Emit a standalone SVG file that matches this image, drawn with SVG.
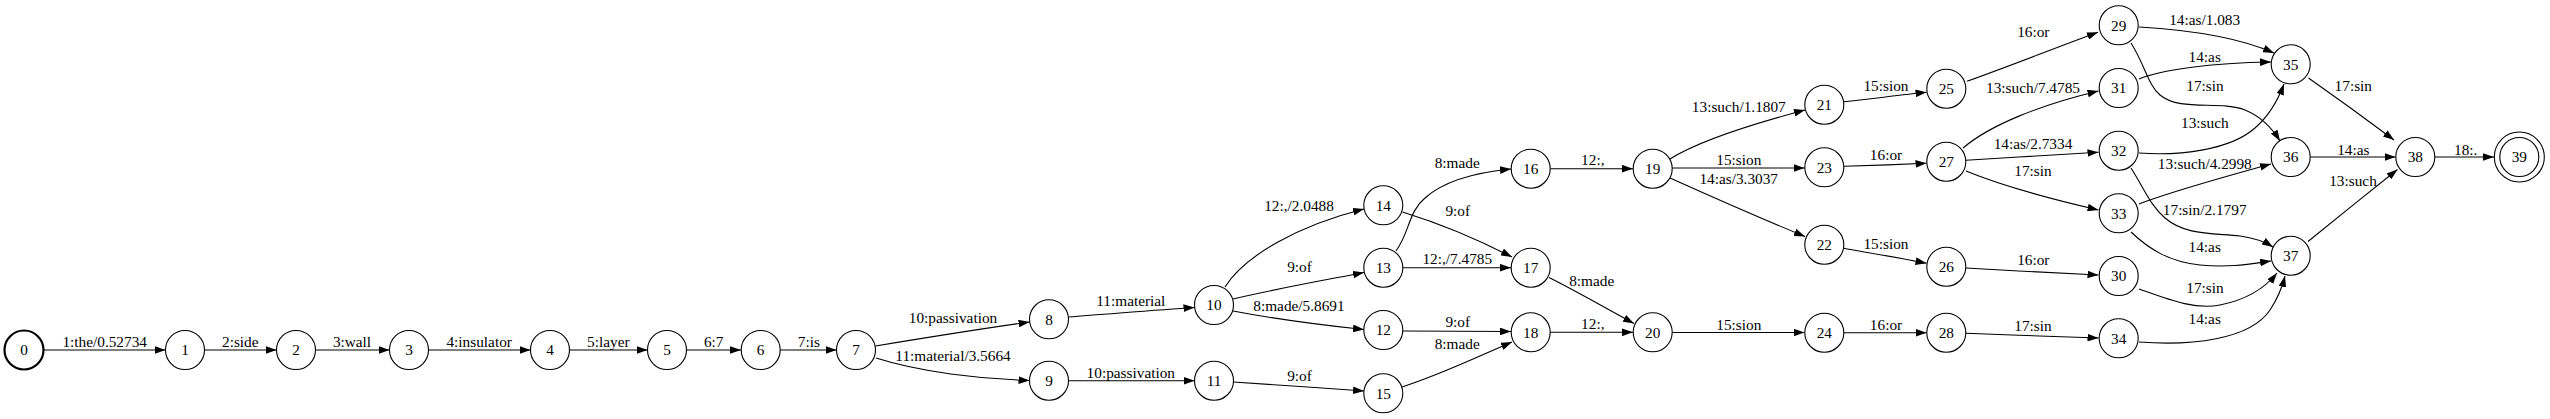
<svg xmlns="http://www.w3.org/2000/svg" width="2550" height="419" viewBox="0 0 2550 419">
<style>
.n{fill:none;stroke:#000;stroke-width:1.1}
.b{fill:none;stroke:#000;stroke-width:2.2}
.e{fill:none;stroke:#000;stroke-width:1.1;marker-end:url(#ah)}
text{font-family:"Liberation Serif","Times New Roman",serif;font-size:15.3px;fill:#000;text-anchor:middle}
</style>
<defs>
<marker id="ah" viewBox="0 0 10 7" refX="10" refY="3.5" markerWidth="11" markerHeight="7.7" markerUnits="userSpaceOnUse" orient="auto">
<path d="M0,0 L10,3.5 L0,7 Z" fill="#000"/>
</marker>
</defs>
<rect width="2550" height="419" fill="#fff"/>
<g id="connectors">
<path class="e" d="M44,350 L165.5,350"/><text x="104.7" y="346.5">1:the/0.52734</text>
<path class="e" d="M205,350 L276.5,350"/><text x="240.3" y="346.5">2:side</text>
<path class="e" d="M316,350 L389.5,350"/><text x="352" y="346.5">3:wall</text>
<path class="e" d="M429,350 L530.5,350"/><text x="479.2" y="346.5">4:insulator</text>
<path class="e" d="M570,350 L647.5,350"/><text x="608.3" y="346.5">5:layer</text>
<path class="e" d="M687,350 L741,350"/><text x="713.7" y="346.5">6:7</text>
<path class="e" d="M780.5,350 L836.5,350"/><text x="808.8" y="346.5">7:is</text>
<path class="e" d="M875.5,346 C930,337 980,329 1029.6,322"/><text x="953" y="323.3">10:passivation</text>
<path class="e" d="M876,358 C920,372 980,379 1029.5,380.5"/><text x="953" y="361">11:material/3.5664</text>
<path class="e" d="M1068.5,317 C1110,314 1155,310 1194.5,307.5"/><text x="1130.8" y="306">11:material</text>
<path class="e" d="M1068.5,380.7 L1194.5,380.7"/><text x="1130.8" y="377.7">10:passivation</text>
<path class="e" d="M1225,287 C1245,255 1300,225 1364,209"/><text x="1299" y="210.7">12:,/2.0488</text>
<path class="e" d="M1233,299 C1270,290 1320,281 1364,272.5"/><text x="1299.5" y="272.3">9:of</text>
<path class="e" d="M1233,311 C1270,318 1320,325 1364,329.5"/><text x="1299" y="310.7">8:made/5.8691</text>
<path class="e" d="M1233.5,382 C1280,385 1320,388 1364,391"/><text x="1299.5" y="380.7">9:of</text>
<path class="e" d="M1402.5,212 C1435,222 1475,238 1512,257"/><text x="1457.8" y="215.7">9:of</text>
<path class="e" d="M1396,251 C1410,232 1408,212 1425,198 C1445,180 1480,172 1511,169"/><text x="1457.2" y="167.7">8:made</text>
<path class="e" d="M1403,267.7 L1511,267.7"/><text x="1457.3" y="264.3">12:,/7.4785</text>
<path class="e" d="M1403,331 L1511,331.5"/><text x="1457.8" y="327.3">9:of</text>
<path class="e" d="M1402,387 C1440,375 1475,358 1512,342"/><text x="1457.2" y="348.7">8:made</text>
<path class="e" d="M1550.5,168.7 L1633,168.7"/><text x="1592.8" y="165">12:,</text>
<path class="e" d="M1549,277.5 C1580,293 1605,308 1634,323.5"/><text x="1591.7" y="285.7">8:made</text>
<path class="e" d="M1550.5,332.3 L1633,332.3"/><text x="1592.8" y="329">12:,</text>
<path class="e" d="M1670,159 C1700,140 1760,122 1805,110"/><text x="1738.8" y="111.7">13:such/1.1807</text>
<path class="e" d="M1672.3,168 L1804.5,168"/><text x="1738.8" y="165">15:sion</text>
<path class="e" d="M1670,178 C1710,196 1760,218 1805,236.5"/><text x="1738.7" y="184.3">14:as/3.3037</text>
<path class="e" d="M1672.3,332.5 L1804.5,332.5"/><text x="1738.8" y="329.5">15:sion</text>
<path class="e" d="M1844,101.7 C1870,99 1900,95 1926.5,92.3"/><text x="1886" y="90.7">15:sion</text>
<path class="e" d="M1844,166.3 C1870,165.5 1900,164.5 1926.5,163.3"/><text x="1886" y="160">16:or</text>
<path class="e" d="M1843.5,248.3 C1870,253 1900,258 1926.5,263.3"/><text x="1886" y="249">15:sion</text>
<path class="e" d="M1844,332.7 L1926.5,332.7"/><text x="1886" y="329.5">16:or</text>
<path class="e" d="M1967,81.3 C2010,66 2055,48 2098,32.3"/><text x="2033.3" y="36.7">16:or</text>
<path class="e" d="M1963,148 C1990,125 2040,105 2098.5,91"/><text x="2033" y="92.7">13:such/7.4785</text>
<path class="e" d="M1966,160.3 C2010,157.5 2055,155 2098.5,152.3"/><text x="2033" y="149.3">14:as/2.7334</text>
<path class="e" d="M1966,171 C2005,187 2055,200 2098.5,210"/><text x="2033" y="175.7">17:sin</text>
<path class="e" d="M1966,268 C2010,270.5 2055,273 2098.5,275"/><text x="2033.3" y="265">16:or</text>
<path class="e" d="M1966,333.3 C2010,335 2055,336.5 2098.5,338"/><text x="2033" y="331">17:sin</text>
<path class="e" d="M2139,27 C2190,30 2240,38 2274,53"/><text x="2204.7" y="25">14:as/1.083</text>
<path class="e" d="M2139,79 C2160,70 2210,63 2271,62"/><text x="2204.7" y="62.3">14:as</text>
<path class="e" d="M2131,43 C2145,65 2148,85 2160,95 C2180,112 2220,100 2245,110 C2262,117 2272,128 2280,141"/><text x="2205" y="91">17:sin</text>
<path class="e" d="M2139,153 C2180,156 2230,150 2255,128 C2270,115 2278,100 2284,84"/><text x="2204.8" y="128">13:such</text>
<path class="e" d="M2131,168 C2145,190 2150,205 2165,218 C2185,235 2210,233 2240,236 C2255,238 2265,242 2273,247"/><text x="2204.7" y="215">17:sin/2.1797</text>
<path class="e" d="M2139,204 C2170,192 2220,178 2271,164"/><text x="2204.8" y="169">13:such/4.2998</text>
<path class="e" d="M2131,232 C2150,250 2170,262 2200,265 C2230,268 2250,264 2271,261"/><text x="2204.7" y="252.3">14:as</text>
<path class="e" d="M2139,289 C2170,300 2195,310 2220,305 C2245,300 2265,288 2277,273"/><text x="2205" y="292.7">17:sin</text>
<path class="e" d="M2139,342 C2190,346 2250,340 2270,310 C2278,298 2282,288 2285,276"/><text x="2204.7" y="324">14:as</text>
<path class="e" d="M2308.5,78 C2337,98 2366,119 2394,140"/><text x="2353.3" y="91">17:sin</text>
<path class="e" d="M2310.5,157 L2395.5,157"/><text x="2353.3" y="155">14:as</text>
<path class="e" d="M2308,241.5 C2337,218 2368,193 2397.5,169.5"/><text x="2353" y="186">13:such</text>
<path class="e" d="M2435,157 L2494,157"/><text x="2465.7" y="155">18:.</text>
</g>
<g id="node0"><circle class="b" cx="24" cy="350" r="19.5"/><text x="24" y="355.2">0</text></g>
<g id="node1"><circle class="n" cx="185" cy="350" r="19.5"/><text x="185" y="355.2">1</text></g>
<g id="node2"><circle class="n" cx="296" cy="350" r="19.5"/><text x="296" y="355.2">2</text></g>
<g id="node3"><circle class="n" cx="409" cy="350" r="19.5"/><text x="409" y="355.2">3</text></g>
<g id="node4"><circle class="n" cx="550" cy="350" r="19.5"/><text x="550" y="355.2">4</text></g>
<g id="node5"><circle class="n" cx="667" cy="350" r="19.5"/><text x="667" y="355.2">5</text></g>
<g id="node6"><circle class="n" cx="760.7" cy="350" r="19.5"/><text x="760.7" y="355.2">6</text></g>
<g id="node7"><circle class="n" cx="856" cy="350" r="19.5"/><text x="856" y="355.2">7</text></g>
<g id="node8"><circle class="n" cx="1049" cy="319.3" r="19.5"/><text x="1049" y="324.5">8</text></g>
<g id="node9"><circle class="n" cx="1049" cy="380.7" r="19.5"/><text x="1049" y="385.9">9</text></g>
<g id="node10"><circle class="n" cx="1214" cy="305" r="19.5"/><text x="1214" y="310.2">10</text></g>
<g id="node11"><circle class="n" cx="1214" cy="380.7" r="19.5"/><text x="1214" y="385.9">11</text></g>
<g id="node12"><circle class="n" cx="1383.3" cy="330" r="19.5"/><text x="1383.3" y="335.2">12</text></g>
<g id="node13"><circle class="n" cx="1383.3" cy="267.7" r="19.5"/><text x="1383.3" y="272.9">13</text></g>
<g id="node14"><circle class="n" cx="1383.3" cy="205.3" r="19.5"/><text x="1383.3" y="210.5">14</text></g>
<g id="node15"><circle class="n" cx="1383.3" cy="393.3" r="19.5"/><text x="1383.3" y="398.5">15</text></g>
<g id="node16"><circle class="n" cx="1530.7" cy="168.7" r="19.5"/><text x="1530.7" y="173.9">16</text></g>
<g id="node17"><circle class="n" cx="1530.7" cy="267.7" r="19.5"/><text x="1530.7" y="272.9">17</text></g>
<g id="node18"><circle class="n" cx="1530.7" cy="332.3" r="19.5"/><text x="1530.7" y="337.5">18</text></g>
<g id="node19"><circle class="n" cx="1652.7" cy="168.7" r="19.5"/><text x="1652.7" y="173.9">19</text></g>
<g id="node20"><circle class="n" cx="1652.7" cy="332.3" r="19.5"/><text x="1652.7" y="337.5">20</text></g>
<g id="node21"><circle class="n" cx="1824.3" cy="104.7" r="19.5"/><text x="1824.3" y="109.9">21</text></g>
<g id="node22"><circle class="n" cx="1824.3" cy="244.7" r="19.5"/><text x="1824.3" y="249.9">22</text></g>
<g id="node23"><circle class="n" cx="1824.3" cy="167.3" r="19.5"/><text x="1824.3" y="172.5">23</text></g>
<g id="node24"><circle class="n" cx="1824.3" cy="332.7" r="19.5"/><text x="1824.3" y="337.9">24</text></g>
<g id="node25"><circle class="n" cx="1946.3" cy="88.7" r="19.5"/><text x="1946.3" y="93.9">25</text></g>
<g id="node26"><circle class="n" cx="1946.3" cy="266.7" r="19.5"/><text x="1946.3" y="271.9">26</text></g>
<g id="node27"><circle class="n" cx="1946.3" cy="161.7" r="19.5"/><text x="1946.3" y="166.9">27</text></g>
<g id="node28"><circle class="n" cx="1946.3" cy="332.7" r="19.5"/><text x="1946.3" y="337.9">28</text></g>
<g id="node29"><circle class="n" cx="2118.7" cy="25.3" r="19.5"/><text x="2118.7" y="30.5">29</text></g>
<g id="node30"><circle class="n" cx="2118.7" cy="276" r="19.5"/><text x="2118.7" y="281.2">30</text></g>
<g id="node31"><circle class="n" cx="2118.7" cy="88" r="19.5"/><text x="2118.7" y="93.2">31</text></g>
<g id="node32"><circle class="n" cx="2118.7" cy="150.7" r="19.5"/><text x="2118.7" y="155.9">32</text></g>
<g id="node33"><circle class="n" cx="2118.7" cy="213.3" r="19.5"/><text x="2118.7" y="218.5">33</text></g>
<g id="node34"><circle class="n" cx="2118.7" cy="338.3" r="19.5"/><text x="2118.7" y="343.5">34</text></g>
<g id="node35"><circle class="n" cx="2290.7" cy="64.3" r="19.5"/><text x="2290.7" y="69.5">35</text></g>
<g id="node36"><circle class="n" cx="2290.7" cy="157" r="19.5"/><text x="2290.7" y="162.2">36</text></g>
<g id="node37"><circle class="n" cx="2290.7" cy="255.7" r="19.5"/><text x="2290.7" y="260.9">37</text></g>
<g id="node38"><circle class="n" cx="2415.3" cy="157" r="19.5"/><text x="2415.3" y="162.2">38</text></g>
<g id="node39"><circle class="n" cx="2519.3" cy="157" r="19.5"/><circle class="n" cx="2519.3" cy="157" r="25"/><text x="2519.3" y="162.2">39</text></g>
</svg>
